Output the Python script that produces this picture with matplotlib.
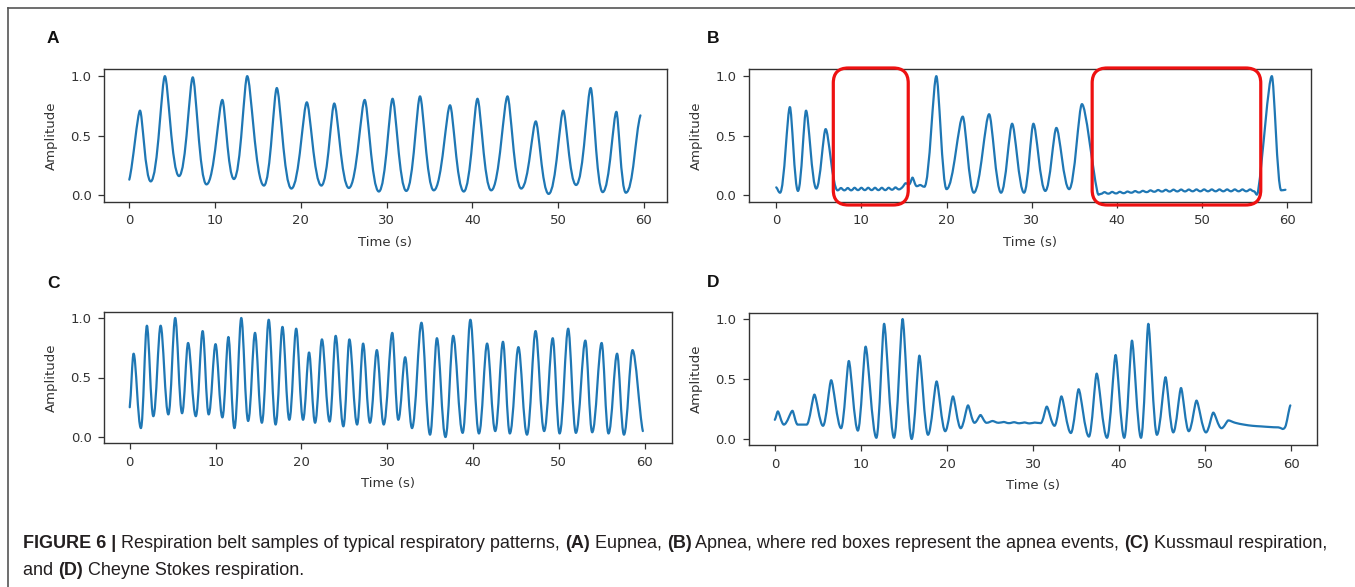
import matplotlib
matplotlib.use("Agg")
import matplotlib.pyplot as plt
from matplotlib.path import Path
from matplotlib.patches import PathPatch, FancyBboxPatch
from matplotlib.lines import Line2D

# ---------------- data ----------------
# Panel A: Eupnea (breath extremes: time s, amplitude)
a_time = [0.0, 1.25, 2.5, 4.15, 5.8, 7.4, 9.0, 10.85, 12.2, 13.75, 15.7, 17.2, 18.9, 20.7,
          22.4, 23.9, 25.6, 27.45, 29.1, 30.7, 32.3, 33.9, 35.5, 37.4, 39.0, 40.6, 42.2,
          44.1, 45.7, 47.4, 48.9, 50.6, 52.1, 53.8, 55.2, 56.8, 57.9, 59.6]
a_amp = [0.13, 0.71, 0.115, 1.0, 0.16, 0.99, 0.09, 0.80, 0.135, 1.0, 0.08, 0.90, 0.055, 0.78,
         0.08, 0.77, 0.06, 0.80, 0.03, 0.81, 0.035, 0.83, 0.04, 0.755, 0.03, 0.81, 0.04,
         0.83, 0.055, 0.62, 0.01, 0.71, 0.085, 0.90, 0.025, 0.70, 0.02, 0.67]

# Panel B: Apnea
b_time = [0.0, 0.45, 1.6, 2.55, 3.5, 4.7, 5.8, 7.2, 7.6, 8.0, 8.4, 8.8, 9.2, 9.6, 10.0,
          10.4, 10.8, 11.2, 11.6, 12.0, 12.4, 12.8, 13.2, 13.6, 14.0, 14.4, 14.8, 15.2,
          15.6, 16.0, 16.5, 16.9, 17.4, 18.8, 20.0, 21.9, 23.2, 25.0, 26.4, 27.7, 29.1,
          30.2, 31.6, 32.9, 34.4, 35.9, 37.7, 38.1, 38.55, 39.0, 39.45, 39.9, 40.35, 40.8,
          41.25, 41.7, 42.15, 42.6, 43.05, 43.5, 43.95, 44.4, 44.85, 45.3, 45.75, 46.2,
          46.65, 47.1, 47.55, 48.0, 48.45, 48.9, 49.35, 49.8, 50.25, 50.7, 51.15, 51.6,
          52.05, 52.5, 52.95, 53.4, 53.85, 54.3, 54.75, 55.2, 55.65, 56.1, 56.6, 58.2,
          59.3, 59.8]
b_amp = [0.065, 0.02, 0.74, 0.035, 0.71, 0.055, 0.555, 0.04, 0.06, 0.04, 0.06, 0.04, 0.062,
         0.042, 0.062, 0.042, 0.062, 0.042, 0.062, 0.042, 0.062, 0.042, 0.062, 0.045, 0.065,
         0.048, 0.065, 0.10, 0.09, 0.147, 0.075, 0.085, 0.07, 1.0, 0.05, 0.66, 0.02, 0.68,
         0.02, 0.60, 0.02, 0.60, 0.035, 0.565, 0.05, 0.765, 0.03, 0.01, 0.025, 0.012, 0.027,
         0.014, 0.028, 0.016, 0.03, 0.02, 0.034, 0.022, 0.036, 0.025, 0.04, 0.028, 0.043,
         0.03, 0.045, 0.03, 0.046, 0.031, 0.047, 0.031, 0.047, 0.032, 0.048, 0.032, 0.048,
         0.032, 0.048, 0.032, 0.048, 0.032, 0.048, 0.032, 0.048, 0.032, 0.048, 0.032,
         0.048, 0.032, 0.04, 1.0, 0.04, 0.045]
b_apnea_start = [6.7, 37.1]
b_apnea_end = [15.5, 56.9]

# Panel C: Kussmaul respiration
c_time = [0.0, 0.45, 1.3, 2.0, 2.75, 3.6, 4.5, 5.3, 6.1, 6.8, 7.7, 8.5, 9.2, 10.0, 10.8,
          11.5, 12.2, 13.0, 13.8, 14.6, 15.4, 16.2, 17.0, 17.8, 18.6, 19.4, 20.2, 20.9,
          21.6, 22.4, 23.3, 24.0, 24.9, 25.6, 26.5, 27.2, 28.0, 28.8, 29.6, 30.6, 31.3,
          32.1, 32.9, 34.0, 35.0, 35.8, 36.8, 37.7, 38.8, 39.7, 40.7, 41.65, 42.6, 43.5,
          44.3, 45.3, 46.3, 47.3, 48.3, 49.3, 50.1, 51.1, 52.0, 53.1, 53.9, 55.0, 55.8,
          56.8, 57.6, 58.6, 59.8]
c_amp = [0.25, 0.70, 0.075, 0.935, 0.175, 0.935, 0.19, 1.0, 0.2, 0.79, 0.175, 0.89, 0.19,
         0.78, 0.165, 0.84, 0.075, 1.0, 0.135, 0.875, 0.12, 0.985, 0.105, 0.925, 0.145,
         0.91, 0.145, 0.71, 0.12, 0.82, 0.13, 0.85, 0.09, 0.82, 0.105, 0.785, 0.12, 0.73,
         0.105, 0.875, 0.145, 0.67, 0.075, 0.96, 0.02, 0.83, 0.0, 0.85, 0.035, 0.985, 0.03,
         0.785, 0.05, 0.80, 0.03, 0.755, 0.02, 0.89, 0.05, 0.83, 0.03, 0.91, 0.035, 0.81,
         0.04, 0.79, 0.03, 0.70, 0.02, 0.73, 0.05]

# Panel D: Cheyne Stokes respiration
d_time = [0.0, 0.35, 1.05, 2.05, 2.65, 3.7, 4.6, 5.6, 6.55, 7.7, 8.6, 9.65, 10.55, 11.8,
          12.7, 13.85, 14.85, 15.9, 16.8, 17.8, 18.8, 19.8, 20.7, 21.6, 22.45, 23.2, 23.9,
          24.6, 25.3, 26.0, 26.6, 27.2, 27.8, 28.4, 29.0, 29.6, 30.2, 30.9, 31.6, 32.5,
          33.3, 34.4, 35.3, 36.5, 37.4, 38.6, 39.6, 40.6, 41.5, 42.55, 43.4, 44.4, 45.4,
          46.3, 47.2, 48.1, 49.0, 50.1, 50.95, 51.9, 52.7, 53.5, 54.5, 55.5, 56.5, 57.5,
          58.5, 59.3, 59.9]
d_amp = [0.16, 0.23, 0.12, 0.235, 0.12, 0.12, 0.37, 0.11, 0.49, 0.09, 0.65, 0.07, 0.77,
         0.01, 0.96, 0.01, 1.0, 0.0, 0.695, 0.035, 0.48, 0.065, 0.355, 0.09, 0.28, 0.135,
         0.20, 0.135, 0.15, 0.135, 0.142, 0.132, 0.14, 0.131, 0.138, 0.13, 0.137, 0.132,
         0.27, 0.11, 0.355, 0.05, 0.415, 0.02, 0.545, 0.01, 0.70, 0.01, 0.82, 0.01, 0.96,
         0.035, 0.515, 0.055, 0.425, 0.065, 0.32, 0.055, 0.22, 0.09, 0.155, 0.135, 0.12,
         0.11, 0.105, 0.1, 0.097, 0.1, 0.28]

x_ticks = [0, 10, 20, 30, 40, 50, 60]
y_ticks = [0.0, 0.5, 1.0]
y_tick_labels = ["0.0", "0.5", "1.0"]
panel_letters = ["A", "B", "C", "D"]
x_label = "Time (s)"
y_label = "Amplitude"

LINE_COLOR = "#1f77b4"
INK = "#333333"


def wave_patch(ax, t, v, k_max, k_min, lw=1.6):
    """Smooth waveform through the read extremes, drawn as a Bezier path."""
    n = len(t)
    slopes, ks = [], []
    for i in range(n):
        if i == 0 or i == n - 1:
            j0, j1 = (0, 1) if i == 0 else (n - 2, n - 1)
            slopes.append((v[j1] - v[j0]) / (t[j1] - t[j0]) * 0.6)
            ks.append(1 / 3)
            continue
        hi = v[i] >= v[i - 1] and v[i] >= v[i + 1]
        lo = v[i] <= v[i - 1] and v[i] <= v[i + 1]
        if hi:
            slopes.append(0.0)
            ks.append(k_max)
        elif lo:
            slopes.append(0.0)
            ks.append(k_min)
        else:
            slopes.append((v[i + 1] - v[i - 1]) / (t[i + 1] - t[i - 1]))
            ks.append(1 / 3)
    verts = [(t[0], v[0])]
    codes = [Path.MOVETO]
    for i in range(n - 1):
        dt = t[i + 1] - t[i]
        c1 = (t[i] + ks[i] * dt, v[i] + slopes[i] * ks[i] * dt)
        c2 = (t[i + 1] - ks[i + 1] * dt, v[i + 1] - slopes[i + 1] * ks[i + 1] * dt)
        verts += [c1, c2, (t[i + 1], v[i + 1])]
        codes += [Path.CURVE4] * 3
    patch = PathPatch(Path(verts, codes), facecolor="none", edgecolor=LINE_COLOR,
                      lw=lw, capstyle="round", joinstyle="round")
    ax.add_patch(patch)


W, H = 1355, 587
fig = plt.figure(figsize=(W / 100, H / 100), dpi=100)
fig.patch.set_facecolor("white")


def px_axes(left, top, right, bottom):
    return fig.add_axes([left / W, 1 - bottom / H, (right - left) / W, (bottom - top) / H])


axA = px_axes(104, 69, 667, 202)
axB = px_axes(749, 69, 1311, 202)
axC = px_axes(104, 312, 672, 443)
axD = px_axes(749, 313, 1317, 445)

panels = [
    (axA, a_time, a_amp, 0.22, 0.50, (-2.95, 62.7), (-0.058, 1.06)),
    (axB, b_time, b_amp, 0.25, 0.42, (-3.2, 62.8), (-0.058, 1.06)),
    (axC, c_time, c_amp, 0.32, 0.40, (-3.0, 63.2), (-0.05, 1.05)),
    (axD, d_time, d_amp, 0.22, 0.38, (-3.0, 63.0), (-0.05, 1.05)),
]

for ax, t, v, kmax, kmin, xl, yl in panels:
    wave_patch(ax, t, v, kmax, kmin)
    ax.set_xlim(*xl)
    ax.set_ylim(*yl)
    ax.set_xticks(x_ticks)
    ax.set_xticklabels([str(x) for x in x_ticks])
    ax.set_yticks(y_ticks)
    ax.set_yticklabels(y_tick_labels)
    for s in ax.spines.values():
        s.set_color(INK)
        s.set_linewidth(1.0)
    ax.tick_params(axis="both", colors=INK, labelsize=9.5, length=4, width=0.9)
    ax.tick_params(axis="y", pad=5)
    ax.tick_params(axis="x", pad=5)
    ax.set_xlabel(x_label, fontsize=9.5, color=INK)
    ax.set_ylabel(y_label, fontsize=9.5, color=INK)
    h_px = ax.get_position().height * H
    w_px = ax.get_position().width * W
    ax.xaxis.set_label_coords(0.5, -34 / h_px)
    ax.yaxis.set_label_coords(-46 / w_px, 0.5)

# red boxes marking apnea events (panel B)
xs_per_px = (62.8 + 3.2) / (1311 - 749)
ys_per_px = (1.06 + 0.058) / (202 - 69)
r_x = 15 * xs_per_px
aspect = (15 * ys_per_px) / r_x
y_bot = -0.058 - 3 * ys_per_px
y_top = 1.06 + 1 * ys_per_px
for x0, x1 in zip(b_apnea_start, b_apnea_end):
    box = FancyBboxPatch((x0, y_bot), x1 - x0, y_top - y_bot,
                         boxstyle="round,pad=0,rounding_size=%f" % r_x,
                         mutation_aspect=aspect, facecolor="none",
                         edgecolor="#ee1111", lw=2.3, clip_on=False, zorder=5)
    axB.add_patch(box)

# panel letters
letter_pos = [(47, 43), (707, 43), (47, 288), (707, 287)]
for letter, (x, y) in zip(panel_letters, letter_pos):
    fig.text(x / W, 1 - y / H, letter, fontsize=12.5, fontweight="bold",
             family="Liberation Sans", va="baseline", ha="left", color="#111111")

# outer frame (top and left rules)
fig.add_artist(Line2D([8 / W, 8 / W], [0, 1 - 8 / H], transform=fig.transFigure,
                      color="#555555", lw=1.2))
fig.add_artist(Line2D([8 / W, 1], [1 - 8 / H, 1 - 8 / H], transform=fig.transFigure,
                      color="#555555", lw=1.2))

# caption with bold runs
fig.canvas.draw()
renderer = fig.canvas.get_renderer()
CAP_SIZE = 13


def text_width(s, bold):
    w = []
    for probe in ("|" + s + "|", "||"):
        t = fig.text(0, 0, probe, fontsize=CAP_SIZE, family="Liberation Sans",
                     fontweight="bold" if bold else "normal")
        w.append(t.get_window_extent(renderer=renderer).width)
        t.remove()
    return w[0] - w[1]


def caption_line(x_px, base_px, parts):
    x = x_px
    for s, bold in parts:
        fig.text(x / W, 1 - base_px / H, s, fontsize=CAP_SIZE, family="Liberation Sans",
                 fontweight="bold" if bold else "normal", va="baseline", ha="left",
                 color="#231f20")
        x += text_width(s, bold)


caption_line(23, 548, [
    ("FIGURE 6 |", True),
    (" Respiration belt samples of typical respiratory patterns, ", False),
    ("(A)", True), (" Eupnea, ", False),
    ("(B)", True), (" Apnea, where red boxes represent the apnea events, ", False),
    ("(C)", True), (" Kussmaul respiration,", False),
])
caption_line(23, 575, [
    ("and ", False), ("(D)", True), (" Cheyne Stokes respiration.", False),
])

fig.savefig("out.png", dpi=100, facecolor="white")
